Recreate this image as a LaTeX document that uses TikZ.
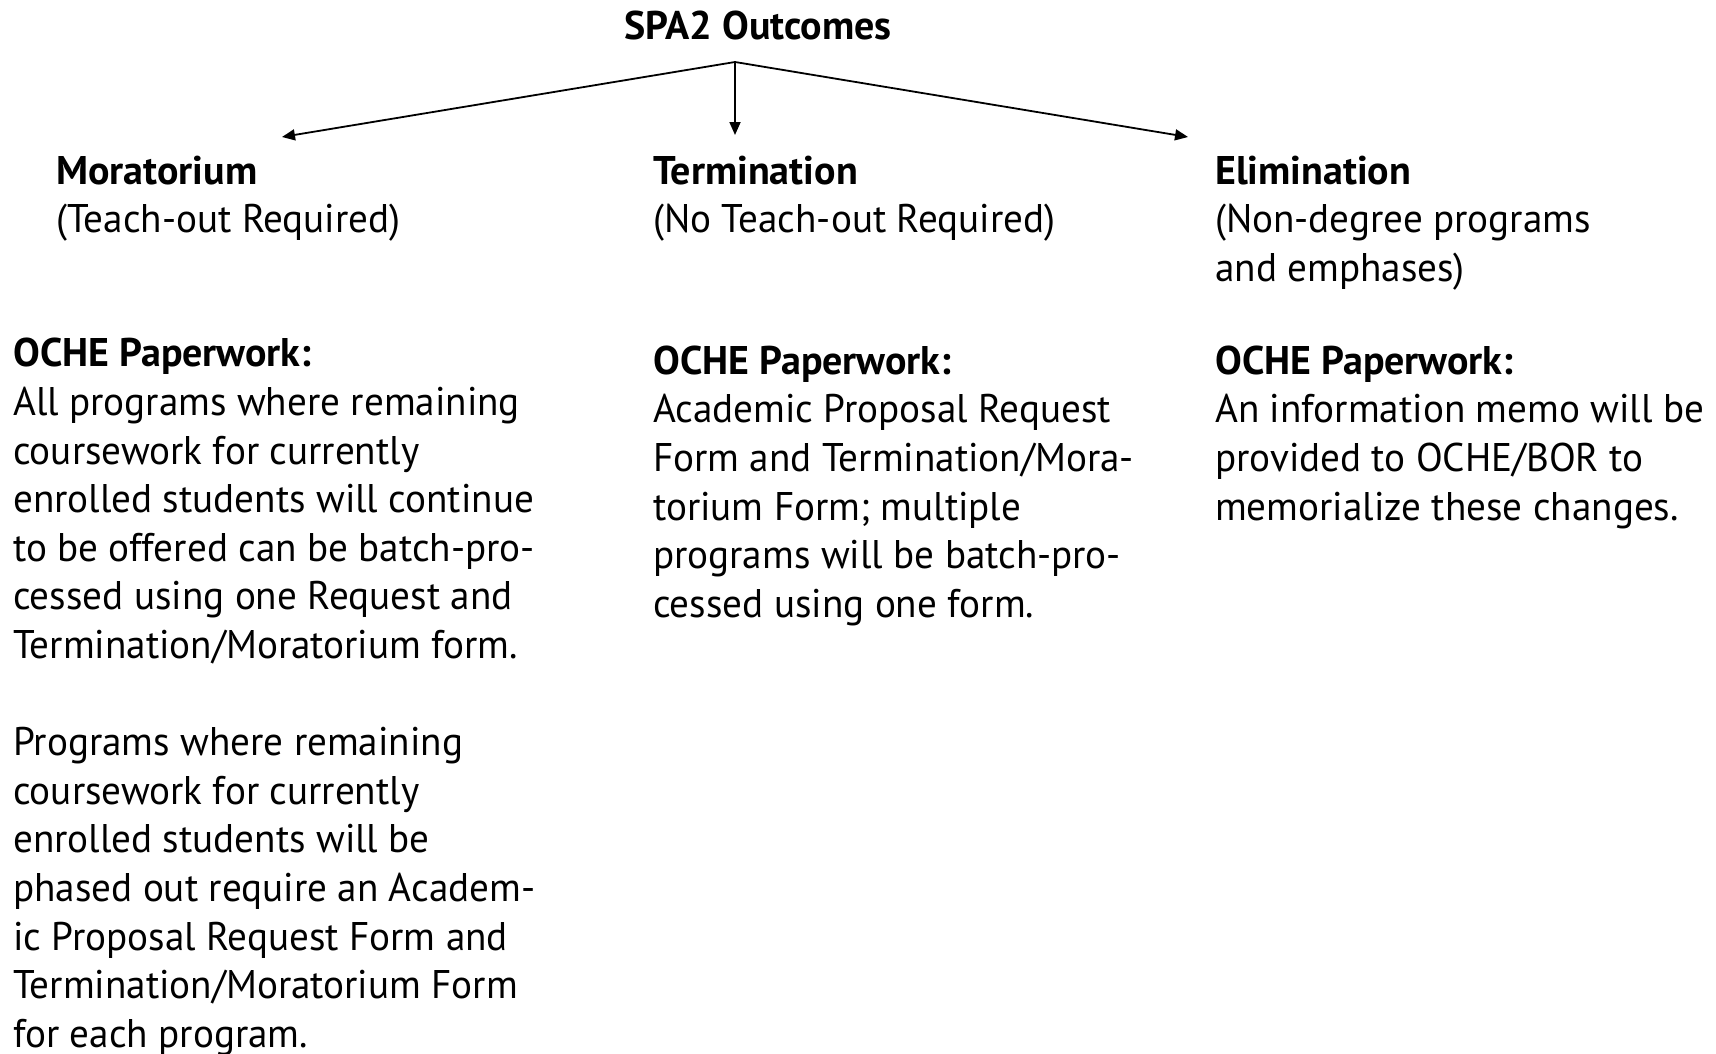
\documentclass[tikz,border=0pt]{standalone}
\usepackage{fontspec}
\setmainfont{PT Sans}[UprightFeatures={FakeStretch=0.978}, BoldFeatures={FakeStretch=1}]
\usetikzlibrary{arrows.meta,positioning}

\tikzset{
  txt/.style={anchor=north west, inner sep=0pt, align=left, font=\fontsize{40}{48.6}\selectfont},
  ttl/.style={anchor=base, inner sep=0pt, font=\fontsize{40}{48.6}\selectfont\bfseries},
  branch/.style={line width=1.8pt, -{Triangle[length=13pt,width=11pt]}},
}

\begin{document}
\begin{tikzpicture}[x=1pt,y=-1pt]
    \useasboundingbox (0,0) rectangle (1716,1053);

    \node[ttl] (spa) at (758,39) {SPA2 Outcomes};
    \coordinate (j) at (735,62);
    \coordinate (tl) at (282,137);
    \coordinate (tm) at (735,135);
    \coordinate (tr) at (1188,137);

    % outcome headings
    \node[txt] (mor) at (56,150) {\strut\textbf{Moratorium}\\(Teach-out Required)};
    \node[txt] (ter) at (653,150) {\strut\textbf{Termination}\\(No Teach-out Required)};
    \node[txt] (eli) at (1215,150) {\strut\textbf{Elimination}\\(Non-degree programs\\and emphases)};

    % paperwork
    \node[txt] (morp) at (13,332.6) {\strut\textbf{OCHE Paperwork:}\\
        All programs where remaining\\
        coursework for currently\\
        enrolled students will continue\\
        to be offered can be batch-pro-\\
        cessed using one Request and\\
        Termination/Moratorium form.\\[48.6pt]
        Programs where remaining\\
        coursework for currently\\
        enrolled students will be\\
        phased out require an Academ-\\
        ic Proposal Request Form and\\
        Termination/Moratorium Form\\
        for each program.};
    \node[txt] (terp) at (653,340) {\strut\textbf{OCHE Paperwork:}\\
        Academic Proposal Request\\
        Form and Termination/Mora-\\
        torium Form; multiple\\
        programs will be batch-pro-\\
        cessed using one form.};
    \node[txt] (elip) at (1215,340) {\strut\textbf{OCHE Paperwork:}\\
        An information memo will be\\
        provided to OCHE/BOR to\\
        memorialize these changes.};

    \draw[branch] (j) -- (tl);
    \draw[branch] (j) -- (tm);
    \draw[branch] (j) -- (tr);
\end{tikzpicture}
\end{document}
